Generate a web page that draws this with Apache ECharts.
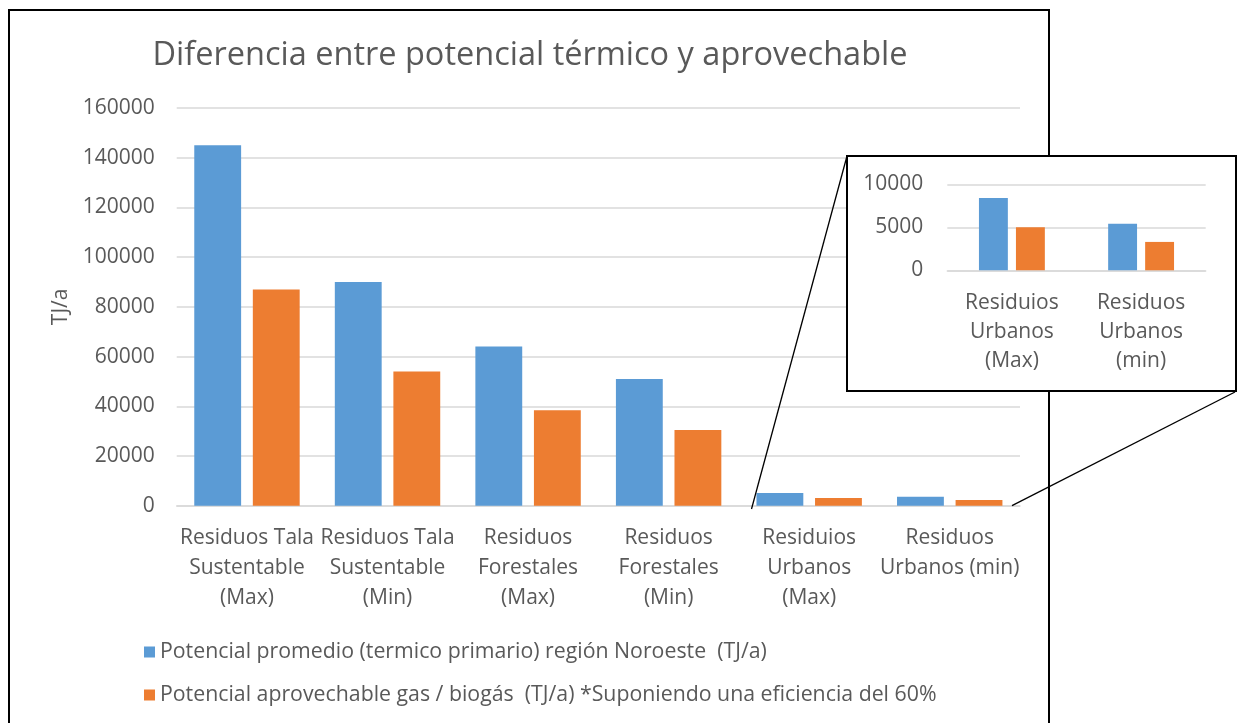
<!DOCTYPE html>
<html>
<head>
<meta charset="utf-8">
<script src="https://cdn.jsdelivr.net/npm/echarts@6/dist/echarts.min.js"></script>
<style>
  html, body { margin: 0; padding: 0; background: #fff; }
  #chart { width: 1242px; height: 723px; }
</style>
</head>
<body>
<div id="chart"></div>
<script>
// Categories of residue (main chart)
const categories = [
  'Residuos Tala\nSustentable\n(Max)',
  'Residuos Tala\nSustentable\n(Min)',
  'Residuos\nForestales\n(Max)',
  'Residuos\nForestales\n(Min)',
  'Residuios\nUrbanos\n(Max)',
  'Residuos\nUrbanos (min)'
];
// Average primary thermal potential, Noroeste region (TJ/a)
const potencialPromedio = [145000, 90000, 64000, 51000, 5100, 3600];
// Usable gas / biogas potential (TJ/a)
const potencialAprovechable = [87000, 54000, 38400, 30500, 3100, 2300];

// Detail of urban residues (inset)
const insetCategories = ['Residuios\nUrbanos\n(Max)', 'Residuos\nUrbanos\n(min)'];
const insetPromedio = [8400, 5400];
const insetAprovechable = [5000, 3300];

// Axis ticks
const mainAxis = { min: 0, max: 160000, interval: 20000 };
const insetAxis = { min: 0, max: 10000, interval: 5000 };

const seriesNames = [
  'Potencial promedio (termico primario) región Noroeste  (TJ/a)',
  'Potencial aprovechable gas / biogás  (TJ/a) *Suponiendo una eficiencia del 60%'
];

const BLUE = '#5B9BD5';
const ORANGE = '#ED7D31';
const TEXT = '#595959';
const GRID = '#D9D9D9';
const FONT = 'Open Sans';
const FS = 21;

const plain = v => String(v);

const chart = echarts.init(document.getElementById('chart'), null, { renderer: 'canvas' });

const option = {
  backgroundColor: '#fff',
  animation: false,
  textStyle: { fontFamily: FONT, color: TEXT },
  title: {
    text: 'Diferencia entre potencial térmico y aprovechable',
    left: 525, top: 34, textAlign: 'center',
    textStyle: { fontFamily: FONT, fontSize: 32.5, fontWeight: 'normal', color: TEXT }
  },
  legend: {
    orient: 'vertical', left: 139, top: 636,
    itemWidth: 11, itemHeight: 11, itemGap: 21,
    icon: 'rect',
    data: seriesNames,
    textStyle: { fontFamily: FONT, fontSize: 21.3, color: TEXT, lineHeight: 22 }
  },
  grid: [
    { left: 176.7, right: 222, top: 108, bottom: 217.3 },
    { left: 947.3, right: 36.3, top: 184.3, bottom: 452.7 }
  ],
  xAxis: [
    {
      type: 'category', gridIndex: 0, data: categories,
      axisLine: { lineStyle: { color: GRID, width: 1.5 } },
      axisTick: { show: false },
      axisLabel: { fontFamily: FONT, fontSize: FS, color: TEXT, lineHeight: 30, margin: 17.5, interval: 0 }
    },
    {
      type: 'category', gridIndex: 1, data: insetCategories, z: 5,
      axisLine: { lineStyle: { color: GRID, width: 1.5 } },
      axisTick: { show: false },
      axisLabel: { fontFamily: FONT, fontSize: FS, color: TEXT, lineHeight: 29, margin: 18, interval: 0 }
    }
  ],
  yAxis: [
    {
      type: 'value', gridIndex: 0, min: mainAxis.min, max: mainAxis.max, interval: mainAxis.interval,
      name: 'TJ/a', nameLocation: 'middle', nameGap: 104, nameRotate: 90,
      nameTextStyle: { fontFamily: FONT, fontSize: FS, color: TEXT },
      axisLine: { show: false }, axisTick: { show: false },
      axisLabel: { fontFamily: FONT, fontSize: FS, color: TEXT, margin: 22, formatter: plain },
      splitLine: { lineStyle: { color: GRID, width: 1.5 } }
    },
    {
      type: 'value', gridIndex: 1, min: insetAxis.min, max: insetAxis.max, interval: insetAxis.interval, z: 5,
      axisLine: { show: false }, axisTick: { show: false },
      axisLabel: { fontFamily: FONT, fontSize: FS, color: TEXT, margin: 24, formatter: plain },
      splitLine: { lineStyle: { color: GRID, width: 1.5 } }
    }
  ],
  series: [
    {
      name: seriesNames[0], type: 'bar', xAxisIndex: 0, yAxisIndex: 0,
      data: potencialPromedio, itemStyle: { color: BLUE },
      barGap: '25%', barCategoryGap: '25%'
    },
    {
      name: seriesNames[1], type: 'bar', xAxisIndex: 0, yAxisIndex: 0,
      data: potencialAprovechable, itemStyle: { color: ORANGE },
      barGap: '25%', barCategoryGap: '25%'
    },
    {
      name: seriesNames[0], type: 'bar', xAxisIndex: 1, yAxisIndex: 1, z: 6,
      data: insetPromedio, itemStyle: { color: BLUE },
      barGap: '28%', barCategoryGap: '49%'
    },
    {
      name: seriesNames[1], type: 'bar', xAxisIndex: 1, yAxisIndex: 1, z: 6,
      data: insetAprovechable, itemStyle: { color: ORANGE },
      barGap: '28%', barCategoryGap: '49%'
    }
  ],
  graphic: [
    // outer chart frame
    {
      type: 'rect', z: 1, silent: true,
      shape: { x: 9, y: 10, width: 1040, height: 740 },
      style: { fill: null, stroke: '#000', lineWidth: 2 }
    },
    // zoom connectors from the urban bars to the detail box
    {
      type: 'line', z: 3, silent: true,
      shape: { x1: 847, y1: 156, x2: 751.5, y2: 509 },
      style: { stroke: '#000', lineWidth: 1.3 }
    },
    {
      type: 'line', z: 3, silent: true,
      shape: { x1: 1235, y1: 392, x2: 1012, y2: 505.7 },
      style: { stroke: '#000', lineWidth: 1.3 }
    },
    // detail box
    {
      type: 'rect', z: 4, silent: true,
      shape: { x: 847, y: 156, width: 389, height: 235 },
      style: { fill: '#fff', stroke: '#000', lineWidth: 2 }
    }
  ]
};

chart.setOption(option);
</script>
</body>
</html>
